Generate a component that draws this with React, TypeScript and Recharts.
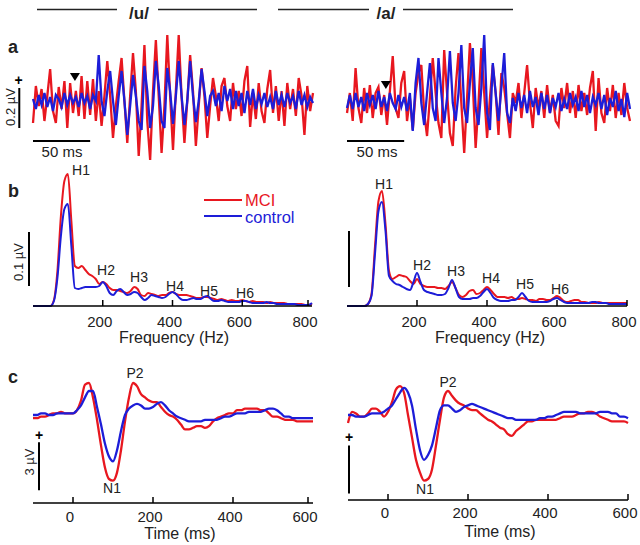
import React from 'react';
import { LineChart, Line, XAxis, YAxis, ReferenceLine, ReferenceDot } from 'recharts';

const RED = '#e8171f';
const BLUE = '#1d1dd8';
const FONT = '"Liberation Sans", Arial, Helvetica, sans-serif';

// row a: brainstem responses, one sample per 2.5 ms, amplitude in 5 nV steps (0.2 µV = 40)
const ffrStepMs = 2.5;
const ffrUMci = [
  -22, 15, -5, 12, -20, 5, 32, -10, -22, 14, -8, 20, -27, 18, -12, 10, -15, 25, -18, 20, -14, 22, -20,
  10, -25, 5, 40, 5, -37, -5, 20, 43, 0, -42, 5, 48, 10, -55, -5, 56, -20, -59, 10, 61, 5, -52, -5, 66, 5,
  -49, 10, 66, 5, -42, 0, 46, 10, -45, -5, 33, 5, -37, -5, 23, 5, -20, 15, 23, -5, -20, 18, -8, 10, -15,
  20, 35, -26, 8, -18, 18, -10, -22, 12, 31, -12, 15, -20, 10, -25, 18, -8, 12, -15, 23, 5, -34, 15, -10, 8,
];
const ffrUControl = [
  2, -8, 6, -4, 8, -6, 4, -10, 6, 2, -6, 8, -4, 6, -2, 4, -6, 8, -2, 5, -8, 6, 0,
  46, 0, -15, 10, 30, 0, -24, 5, 30, 0, -34, -5, 26, 5, -20, -29, 35, 10, -27, -5, 40, 15, -20, -27, 33,
  10, -23, 5, 40, 5, -24, 0, 40, 5, -21, 0, 32, 10, -15, 5, 10, -5, 8, -10, 15, 0, 12, -8, 10, -5, 8, -12,
  10, -4, 12, -8, 6, -3, 8, -6, 4, -8, 10, -4, 6, -6, 8, -2, 5, -8, 10, -4, 6, -6, 4, -2,
];
const ffrAMci = [
  -10, 10, -18, 35, -5, -20, 15, -10, 18, -15, 10, 16, -12, 8, -22, 12, 47, -5, -15, 20,
  32, -18, 5, -27, 10, 30, 38, -10, -33, 5, 45, 10, -20, -35, 53, 10, -30, -43, 15, 50,
  0, -50, 5, 60, 20, -45, 0, 55, 10, -35, 5, 38, 10, -32, 30, 15, -10, -35, 10, 0,
  20, -15, 10, 38, 0, -25, 15, -5, 12, -15, 18, -10, 8, -18, -23, 15, -5, 20, -10, 12,
  -15, 18, -8, 10, -12, 15, 32, -28, 25, -10, -20, 15, -8, 18, -15, 10, -12, 20, -5, -18,
];
const ffrAControl = [
  -5, 8, -6, 10, -4, 6, -8, 10, -2, 8, -6, 12, -4, 6, -8, 10, 0, -6, 8, -4,
  6, -8, 10, -28, 20, 45, 0, -22, 10, 40, -5, -18, 45, 10, -20, 5, 52, 0, -18, 10,
  58, -5, -20, 20, 55, -5, -22, 15, 68, -10, -27, 40, 10, -18, 15, 50, -10, -20, 5, -8,
  10, -5, 8, -10, 12, -4, 6, -12, 10, -6, 8, -10, 5, -4, 10, -8, 4, -6, 10, -2,
  6, -8, 12, -4, 8, -10, 6, -2, 10, -6, 8, -12, 5, -4, 12, -8, 4, -14, 10, -6,
];

// row b: spectra in 10 Hz bins from 0 to 800 Hz (0.1 µV = 54)
const freqStepHz = 10;
const specUMci = [
  0, 0, 0, 0, 0, 0, 6, 35, 90, 125, 132, 85, 40, 38, 40, 36, 32, 30, 27, 22,
  24, 22, 18, 16, 16, 15, 14, 13, 15, 19, 17, 11, 10, 13, 12, 11, 10, 11, 11, 13,
  14, 12, 11, 11, 11, 10, 9, 8, 8, 9, 9, 8, 7, 6, 7, 6, 5, 6, 5, 5,
  6, 5, 4, 5, 4, 4, 4, 3, 4, 3, 3, 3, 3, 2, 2, 2, 2, 2, 1, 1, 2,
];
const specUControl = [
  0, 0, 0, 0, 0, 0, 5, 28, 70, 97, 102, 60, 18, 17, 18, 19, 19, 19, 19, 20,
  24, 20, 13, 11, 15, 17, 14, 11, 12, 14, 13, 9, 6, 8, 11, 10, 9, 8, 9, 12,
  14, 12, 8, 6, 6, 7, 8, 7, 7, 9, 10, 7, 5, 5, 6, 5, 4, 4, 4, 4,
  5, 5, 4, 3, 3, 3, 3, 4, 3, 3, 2, 2, 2, 2, 2, 2, 1, 1, 1, 1, 3,
];
const specAMci = [
  0, 0, 0, 0, 0, 0, 2, 12, 60, 105, 115, 82, 35, 27, 29, 31, 30, 29, 25, 22,
  27, 22, 20, 19, 19, 19, 18, 18, 17, 20, 24, 18, 11, 9, 11, 15, 16, 12, 13, 16,
  19, 16, 12, 9, 9, 9, 8, 9, 7, 7, 8, 7, 6, 6, 5, 7, 7, 6, 6, 8,
  10, 8, 5, 4, 5, 6, 6, 4, 4, 3, 3, 3, 4, 3, 3, 3, 3, 3, 3, 3, 3,
];
const specAControl = [
  0, 0, 0, 0, 0, 0, 2, 10, 52, 95, 104, 75, 30, 25, 22, 21, 19, 17, 16, 24,
  33, 24, 16, 14, 13, 12, 11, 11, 12, 18, 26, 18, 9, 7, 7, 7, 8, 8, 10, 14,
  17, 13, 8, 6, 5, 5, 5, 6, 6, 9, 13, 9, 5, 4, 4, 4, 4, 4, 5, 7,
  8, 6, 4, 3, 3, 3, 3, 3, 3, 3, 4, 4, 3, 3, 3, 2, 2, 2, 2, 2, 2,
];
const freqTicks = [200, 400, 600, 800];

// row c: cortical ERPs in µV, 10 ms steps from -100 to 600 ms
const erpStartMs = -100;
const erpStepMs = 10;
const erpUMci = [
  -0.2, -0.2, -0.1, -0.1, 0, 0.1, 0.1, 0.2, 0.1, 0.1, 0.1, 0.3, 0.9, 1.9, 2.0, 1.1, -0.3, -1.9, -3.3, -4.0,
  -4.1, -3.6, -2.2, -0.4, 1.1, 2.0, 1.8, 1.3, 1.1, 0.9, 0.8, 0.8, 0.5, 0.2, 0, -0.1, -0.3, -0.6, -0.9, -0.9,
  -0.8, -0.7, -0.7, -0.8, -0.7, -0.4, -0.2, -0.1, 0, 0.1, 0.1, 0.3, 0.3, 0.4, 0.4, 0.4, 0.4, 0.3, 0.3, 0.1,
  -0.1, -0.1, -0.2, -0.3, -0.3, -0.3, -0.4, -0.4, -0.4, -0.4, -0.4,
];
const erpUControl = [
  0, 0, 0.1, 0.1, 0, 0, 0.1, 0.1, 0.1, 0.1, 0.1, 0.3, 0.6, 1.1, 1.5, 1.5, 0.5, -0.6, -1.8, -2.6,
  -2.9, -2.2, -1.0, 0, 0.4, 0.6, 0.7, 0.6, 0.4, 0.4, 0.5, 0.7, 0.8, 0.6, 0.3, 0.1, -0.1, -0.2, -0.3, -0.4,
  -0.4, -0.4, -0.4, -0.3, -0.3, -0.3, -0.3, -0.2, -0.1, -0.1, 0, 0.1, 0.1, 0.1, 0.2, 0.2, 0.2, 0.2, 0.3, 0.4,
  0.4, 0.3, 0.1, -0.1, -0.1, -0.2, -0.2, -0.2, -0.2, -0.2, -0.2,
];
const erpAMci = [
  -0.5, 0.2, 0.1, -0.1, -0.1, 0.1, 0.4, 0.4, 0.2, -0.1, 0.2, 0.8, 1.6, 1.8, 1.4, 0, -1.4, -2.8, -3.6, -4.1,
  -4.0, -3.4, -1.9, -0.3, 1.1, 1.5, 1.2, 0.9, 0.7, 0.6, 0.4, 0.3, 0.3, 0.1, -0.1, -0.3, -0.4, -0.6, -0.8, -0.9,
  -1.2, -1.3, -1.0, -0.8, -0.6, -0.4, -0.4, -0.3, -0.3, -0.3, -0.3, -0.3, -0.3, -0.2, -0.1, -0.1, -0.1, 0, 0.1, 0.1,
  0.2, 0.2, 0.1, -0.1, -0.2, -0.3, -0.4, -0.4, -0.4, -0.4, -0.5,
];
const erpAControl = [
  0, 0, -0.1, -0.1, -0.1, 0, 0.1, 0.1, 0.1, 0.2, 0.4, 0.6, 1.0, 1.4, 1.7, 1.4, 0.6, -0.9, -2.2, -2.8,
  -2.5, -1.9, -0.8, 0.3, 0.6, 0.6, 0.4, 0.2, 0.3, 0.5, 0.6, 0.7, 0.6, 0.5, 0.4, 0.3, 0.2, 0.1, 0, -0.1,
  -0.2, -0.2, -0.3, -0.3, -0.3, -0.3, -0.3, -0.3, -0.2, -0.2, -0.1, -0.1, 0, 0.1, 0.2, 0.2, 0.2, 0.2, 0.1, 0.1,
  0.1, 0.1, 0.1, 0.2, 0.2, 0.2, 0.1, 0.1, -0.1, -0.1, -0.2,
];
const timeTicks = [0, 200, 400, 600];

const rows = (mci: number[], control: number[], start: number, step: number) =>
  mci.map((v, i) => ({ x: start + i * step, mci: v, control: control[i] }));

const ffrU = rows(ffrUMci, ffrUControl, 0, ffrStepMs);
const ffrA = rows(ffrAMci, ffrAControl, 0, ffrStepMs);
const specU = rows(specUMci, specUControl, 0, freqStepHz);
const specA = rows(specAMci, specAControl, 0, freqStepHz);
const erpU = rows(erpUMci, erpUControl, erpStartMs, erpStepMs);
const erpA = rows(erpAMci, erpAControl, erpStartMs, erpStepMs);

// ticks point up into the plot, labels sit below the axis line
const UpTick = (props: any) => {
  const { x, y, payload, labelDy } = props;
  return (
    <g>
      <line x1={x} y1={y} x2={x} y2={y - 6} stroke="#000" strokeWidth={1.5} />
      <text x={x - 3} y={y + labelDy} textAnchor="middle" fontSize={15} fontFamily={FONT} fill="#222">
        {payload.value}
      </text>
    </g>
  );
};

const Triangle = (p: any) => (
  <polygon points={`${p.cx - 5},${p.cy - 4} ${p.cx + 5},${p.cy - 4} ${p.cx},${p.cy + 4}`} fill="#000" />
);

const bar = { stroke: '#000', strokeWidth: 2, ifOverflow: 'visible' as const };

const at = (left: number, top: number): React.CSSProperties => ({ position: 'absolute', left, top });

export default function App() {
  const lines = (curve: 'linear' | 'monotone', w: number) => [
    <Line key="m" dataKey="mci" type={curve} stroke={RED} strokeWidth={w} dot={false} isAnimationActive={false} />,
    <Line key="c" dataKey="control" type={curve} stroke={BLUE} strokeWidth={w} dot={false} isAnimationActive={false} />,
  ];
  const txt = { fontFamily: FONT, fill: '#222' };
  const plus = { fontFamily: FONT, fill: '#000', fontSize: 14, fontWeight: 'bold' as const, textAnchor: 'middle' as const };

  return (
    <div style={{ position: 'absolute', left: 0, top: 0, width: 640, height: 545, background: '#fff', overflow: 'hidden' }}>
      {/* a: time-domain responses */}
      <div style={at(0, 0)}>
        <LineChart width={320} height={180} data={ffrU} margin={{ top: 26, right: 7, bottom: 4, left: 33 }}>
          <XAxis type="number" dataKey="x" domain={[0, 245]} hide />
          <YAxis type="number" domain={[-75, 75]} hide />
          {lines('linear', 2.3)}
          <ReferenceLine segment={[{ x: -12, y: 13 }, { x: -12, y: -27 }]} {...bar} />
          <ReferenceLine segment={[{ x: 0, y: -40 }, { x: 50, y: -40 }]} {...bar} />
          <ReferenceDot x={36.7} y={24} r={5} ifOverflow="visible" shape={Triangle} />
        </LineChart>
      </div>
      <div style={at(320, 0)}>
        <LineChart width={320} height={180} data={ffrA} margin={{ top: 28, right: 10, bottom: 2, left: 27 }}>
          <XAxis type="number" dataKey="x" domain={[0, 247.5]} hide />
          <YAxis type="number" domain={[-75, 75]} hide />
          {lines('linear', 2.3)}
          <ReferenceLine segment={[{ x: 0, y: -38 }, { x: 50, y: -38 }]} {...bar} />
          <ReferenceDot x={34} y={18} r={5} ifOverflow="visible" shape={Triangle} />
        </LineChart>
      </div>

      {/* b: spectra */}
      <div style={at(0, 160)}>
        <LineChart width={320} height={185} data={specU} margin={{ top: 10, right: 8, bottom: 19, left: 33 }}>
          <XAxis type="number" dataKey="x" domain={[0, 800]} ticks={freqTicks} height={20} tickSize={0} tickMargin={0}
            axisLine={{ stroke: '#000', strokeWidth: 1.5 }} tickLine={false} tick={(p: any) => <UpTick {...p} labelDy={21} />} />
          <YAxis type="number" domain={[0, 136]} hide />
          {lines('monotone', 2)}
          <ReferenceLine segment={[{ x: -11.5, y: 20 }, { x: -11.5, y: 74 }]} {...bar} />
        </LineChart>
      </div>
      <div style={at(320, 160)}>
        <LineChart width={320} height={185} data={specA} margin={{ top: 10, right: 13, bottom: 19, left: 27 }}>
          <XAxis type="number" dataKey="x" domain={[0, 800]} ticks={freqTicks} height={20} tickSize={0} tickMargin={0}
            axisLine={{ stroke: '#000', strokeWidth: 1.5 }} tickLine={false} tick={(p: any) => <UpTick {...p} labelDy={21} />} />
          <YAxis type="number" domain={[0, 136]} hide />
          {lines('monotone', 2)}
          <ReferenceLine segment={[{ x: 5.7, y: 19 }, { x: 5.7, y: 75 }]} {...bar} />
        </LineChart>
      </div>

      {/* c: cortical responses */}
      <div style={at(0, 355)}>
        <LineChart width={320} height={190} data={erpU} margin={{ top: 5, right: 7, bottom: 22, left: 33 }}>
          <XAxis type="number" dataKey="x" domain={[-100, 600]} ticks={timeTicks} height={20} tickSize={0} tickMargin={0}
            axisLine={{ stroke: '#000', strokeWidth: 1.5 }} tickLine={false} tick={(p: any) => <UpTick {...p} labelDy={19} />} />
          <YAxis type="number" domain={[-5.5, 3.4375]} hide />
          {lines('monotone', 2.3)}
          <ReferenceLine segment={[{ x: -85, y: -1.7 }, { x: -85, y: -4.7 }]} {...bar} />
        </LineChart>
      </div>
      <div style={at(320, 355)}>
        <LineChart width={320} height={190} data={erpA} margin={{ top: 5, right: 12, bottom: 25, left: 28 }}>
          <XAxis type="number" dataKey="x" domain={[-100, 600]} ticks={timeTicks} height={20} tickSize={0} tickMargin={0}
            axisLine={{ stroke: '#000', strokeWidth: 1.5 }} tickLine={false} tick={(p: any) => <UpTick {...p} labelDy={18} />} />
          <YAxis type="number" domain={[-5.3125, 3.4375]} hide />
          {lines('monotone', 2.3)}
          <ReferenceLine segment={[{ x: -97.5, y: -1.9 }, { x: -97.5, y: -4.9 }]} {...bar} />
        </LineChart>
      </div>

      <svg width={640} height={545} style={{ position: 'absolute', left: 0, top: 0, pointerEvents: 'none' }}>
        {/* header */}
        <g stroke="#222" strokeWidth={1.4}>
          <line x1={37} y1={9.5} x2={117} y2={9.5} />
          <line x1={158} y1={9.5} x2={257} y2={9.5} />
          <line x1={278} y1={9.5} x2={369} y2={9.5} />
          <line x1={403} y1={9.5} x2={513} y2={9.5} />
        </g>
        <text x={139} y={19} textAnchor="middle" fontSize={17} fontWeight="bold" {...txt}>/u/</text>
        <text x={386} y={19} textAnchor="middle" fontSize={17} fontWeight="bold" {...txt}>/a/</text>

        {/* panel letters */}
        <text x={8} y={53} fontSize={18} fontWeight="bold" {...txt}>a</text>
        <text x={8} y={197} fontSize={18} fontWeight="bold" {...txt}>b</text>
        <text x={8} y={383} fontSize={18} fontWeight="bold" {...txt}>c</text>

        {/* a annotations */}
        <text x={18.5} y={85} {...plus}>+</text>
        <text transform="translate(15,107) rotate(-90)" textAnchor="middle" fontSize={13} {...txt}>0.2 µV</text>
        <text x={62} y={157} textAnchor="middle" fontSize={15} {...txt}>50 ms</text>
        <text x={377} y={157} textAnchor="middle" fontSize={15} {...txt}>50 ms</text>

        {/* b annotations */}
        <text transform="translate(23,262) rotate(-90)" textAnchor="middle" fontSize={13} {...txt}>0.1 µV</text>
        <line x1={204} y1={200} x2={242} y2={200} stroke={RED} strokeWidth={2} />
        <line x1={204} y1={216} x2={242} y2={216} stroke={BLUE} strokeWidth={2} />
        <text x={245} y={206} fontSize={16.5} fontFamily={FONT} fill={RED}>MCI</text>
        <text x={245} y={223} fontSize={16.5} fontFamily={FONT} fill={BLUE}>control</text>
        {[
          ['H1', 81, 175], ['H2', 106, 275], ['H3', 139, 282], ['H4', 175, 291], ['H5', 209, 296], ['H6', 245, 298],
          ['H1', 384, 189], ['H2', 422, 270], ['H3', 456, 276], ['H4', 491, 283], ['H5', 525, 289], ['H6', 560, 294],
        ].map(([t, x, y], i) => (
          <text key={i} x={x as number} y={y as number} textAnchor="middle" fontSize={14} {...txt}>{t}</text>
        ))}
        <text x={174} y={343} textAnchor="middle" fontSize={16} {...txt}>Frequency (Hz)</text>
        <text x={490} y={343} textAnchor="middle" fontSize={16} {...txt}>Frequency (Hz)</text>

        {/* c annotations */}
        <text x={39} y={440} {...plus}>+</text>
        <text transform="translate(34,462) rotate(-90)" textAnchor="middle" fontSize={13} {...txt}>3 µV</text>
        <text x={349} y={442} {...plus}>+</text>
        <text x={135} y={378} textAnchor="middle" fontSize={14} {...txt}>P2</text>
        <text x={112} y={493} textAnchor="middle" fontSize={14} {...txt}>N1</text>
        <text x={448} y={387} textAnchor="middle" fontSize={14} {...txt}>P2</text>
        <text x={425} y={494} textAnchor="middle" fontSize={14} {...txt}>N1</text>
        <text x={180} y={539} textAnchor="middle" fontSize={16} {...txt}>Time (ms)</text>
        <text x={500} y={537} textAnchor="middle" fontSize={16} {...txt}>Time (ms)</text>
      </svg>
    </div>
  );
}
